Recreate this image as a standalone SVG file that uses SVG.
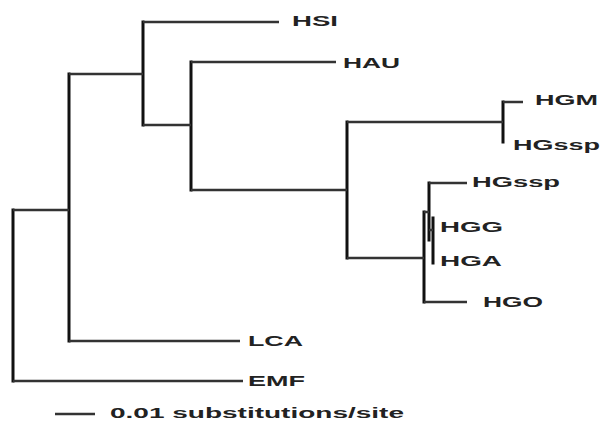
<svg xmlns="http://www.w3.org/2000/svg" width="602" height="421" viewBox="0 0 602 421">
<style>
.v{stroke:#111;stroke-width:3;fill:none;stroke-linecap:square}
.h{stroke:#333;stroke-width:2.4;fill:none}
text{font-family:"Liberation Sans",Arial,sans-serif;font-size:14px;font-weight:bold;fill:#222}
</style>
<rect width="602" height="421" fill="#fff"/>
<g id="connectors">
<path class="v" d="M13 210V381M69 74V341M143 22V125M191 62V190M347 122V258M503 102V142M424 212V302M429 183V240M433 218V263"/>
<path class="h" d="M13 381H243M13 210H69M69 341H240M69 74H143M143 22H279M143 125H191M191 62H336M191 190H347M347 122H503M503 102H523M347 258H424M424 302H467M424 212H429M429 183H467M429 230H433M55 414H95"/>
</g>
<g id="HSI"><text x="292" y="26" textLength="46" lengthAdjust="spacingAndGlyphs">HSI</text></g>
<g id="HAU"><text x="343" y="68" textLength="57" lengthAdjust="spacingAndGlyphs">HAU</text></g>
<g id="HGM"><text x="535" y="105" textLength="63" lengthAdjust="spacingAndGlyphs">HGM</text></g>
<g id="HGssp1"><text x="513" y="150" textLength="87" lengthAdjust="spacingAndGlyphs">HGssp</text></g>
<g id="HGssp2"><text x="472" y="187" textLength="88" lengthAdjust="spacingAndGlyphs">HGssp</text></g>
<g id="HGG"><text x="440" y="232" textLength="63" lengthAdjust="spacingAndGlyphs">HGG</text></g>
<g id="HGA"><text x="440" y="266" textLength="62" lengthAdjust="spacingAndGlyphs">HGA</text></g>
<g id="HGO"><text x="483" y="307" textLength="60" lengthAdjust="spacingAndGlyphs">HGO</text></g>
<g id="LCA"><text x="248" y="346" textLength="55" lengthAdjust="spacingAndGlyphs">LCA</text></g>
<g id="EMF"><text x="248" y="386" textLength="57" lengthAdjust="spacingAndGlyphs">EMF</text></g>
<g id="scale"><text x="110" y="418" textLength="294" lengthAdjust="spacingAndGlyphs">0.01 substitutions/site</text></g>
</svg>
